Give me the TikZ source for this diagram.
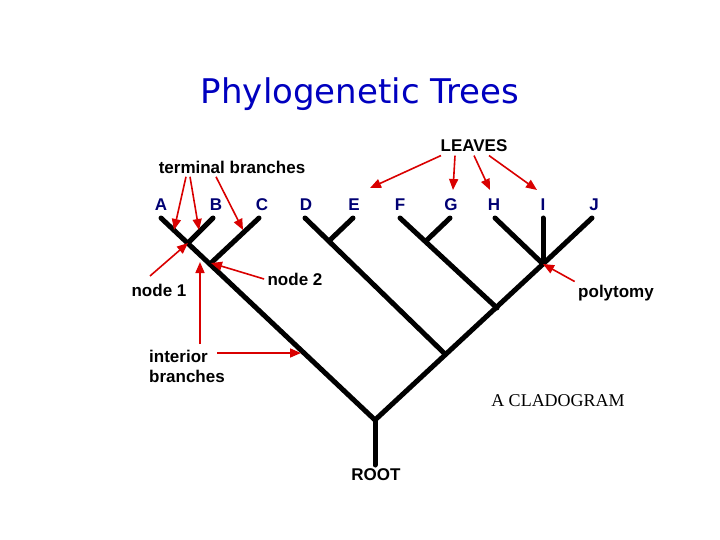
\documentclass[tikz,border=0pt]{standalone}
\usepackage{fontspec}
\setmainfont{Liberation Sans}
\newfontfamily\serifff{Liberation Serif}
\newfontfamily\titlef{DejaVu Sans}
\usetikzlibrary{arrows.meta}
\begin{document}
\begin{tikzpicture}[x=1pt,y=-1pt,
 br/.style={line width=5pt,line cap=round},
 ar/.style={red!85!black,line width=1.6pt,-{Triangle[length=11pt,width=9pt]}},
 leaf/.style={font=\bfseries\fontsize{17}{17}\selectfont,text=blue!45!black},
 lab/.style={font=\bfseries\fontsize{17}{20}\selectfont,align=left}]
\useasboundingbox (0,0) rectangle (720,540);
\node[font=\titlef\fontsize{34}{34}\selectfont,text=blue!75!black] (title) at (360,94) {Phylogenetic Trees};
\foreach \n/\x in {A/161,B/216,C/262,D/306,E/354,F/400,G/451,H/494,I/543,J/594}
  \node[leaf] (l\n) at (\x,205) {\n};
\coordinate (tA) at (161,218); \coordinate (tB) at (213,218);
\coordinate (tC) at (259,218); \coordinate (tD) at (305,218);
\coordinate (tE) at (353,218); \coordinate (tF) at (400,218);
\coordinate (tG) at (450,218); \coordinate (tH) at (495,218);
\coordinate (tI) at (543,218); \coordinate (tJ) at (592,218);
\coordinate (n1) at (188,243); \coordinate (n2) at (211,263);
\coordinate (nDE) at (330,240); \coordinate (nFG) at (427,240);
\coordinate (pol) at (543,264); \coordinate (nF) at (497,308);
\coordinate (nD) at (445,354); \coordinate (root) at (375,420);
\coordinate (rb) at (375,465);
\draw[br] (tA) -- (root) -- (pol);
\draw[br] (tB) -- (n1); \draw[br] (tC) -- (n2);
\draw[br] (tD) -- (nD); \draw[br] (tE) -- (nDE);
\draw[br] (tF) -- (nF); \draw[br] (tG) -- (nFG);
\draw[br] (tH) -- (pol); \draw[br] (tI) -- (pol); \draw[br] (tJ) -- (pol);
\draw[br] (root) -- (rb);
\node[lab] (tb) at (232,167) {terminal branches};
\node[lab] (lv) at (474,146) {LEAVES};
\node[lab] (nd1) at (159,290) {node 1};
\node[lab] (nd2) at (295,279) {node 2};
\node[lab] (ib) at (187,366) {interior\\branches};
\node[lab] (poly) at (616,293) {polytomy};
\node[font=\serifff\fontsize{18}{18}\selectfont] (clad) at (558,401) {A CLADOGRAM};
\node[lab] (rt) at (376,475) {ROOT};
\draw[ar] ([xshift=-46pt]tb.south) -- (174,230);
\draw[ar] ([xshift=-42pt]tb.south) -- (199,230);
\draw[ar] ([xshift=-16pt]tb.south) -- (243,230);
\draw[ar] ([xshift=-33pt]lv.south) -- (370,188);
\draw[ar] ([xshift=-19pt]lv.south) -- (453,190);
\draw[ar] ([xshift=0pt]lv.south) -- (490,190);
\draw[ar] ([xshift=15pt]lv.south) -- (537,190);
\draw[ar] (150,276) -- (n1);
\draw[ar] (nd2.west) -- (n2);
\draw[ar] (200,344) -- (200,262);
\draw[ar] (217,353) -- (301,353);
\draw[ar] (poly.north west) -- (pol);
\end{tikzpicture}
\end{document}
